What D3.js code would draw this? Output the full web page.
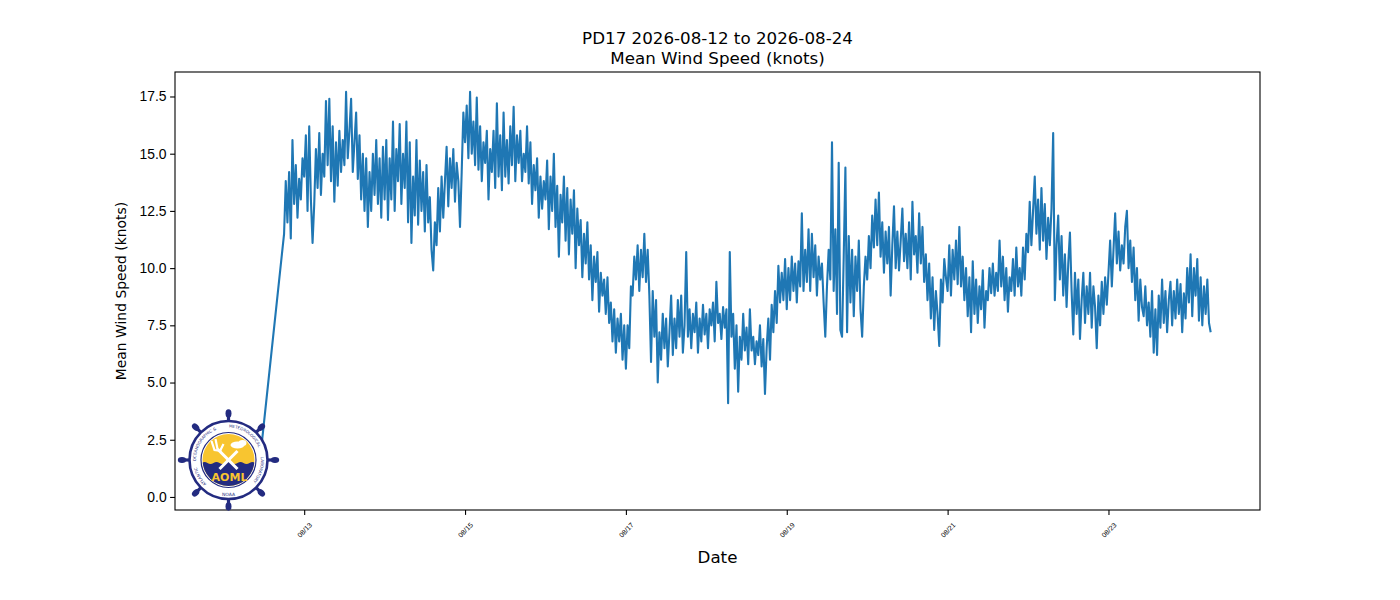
<!DOCTYPE html>
<html lang="en">

<head>
    <meta charset="UTF-8">
    <script src="https://d3js.org/d3.v7.min.js"></script>
    <title>PD17 Mean Wind Speed</title>
    <style>
        body { margin: 0; background: #fff; }
        svg { font-family: "DejaVu Sans", sans-serif; }
        .frame { fill: none; stroke: #000; stroke-width: 1.1px; }
        .tick line { stroke: #000; stroke-width: 1.1px; }
    </style>
</head>

<body>
    <div id="chart"></div>
    <script>
        // Two sparse readings at the start of the record (hidden behind the logo)
        var leadTimes = ["2026-08-12T00:10", "2026-08-12T10:00"];
        var leadValues = [0.3, 0.5];

        // Regular 30 minute readings from 2026-08-12 18:00 (UTC)
        var seriesStart = "2026-08-12T18:00";
        var stepMinutes = 30;
        var windSpeed = [
            // 08/12 18:00 - 23:30
            11.5, 13.8, 12.0, 14.2, 11.3, 15.6, 12.8, 14.5, 12.2, 13.9, 13.0, 14.8,
            // 08/13
            14.0, 15.8, 12.5, 16.2, 13.0, 11.1, 12.8, 15.2, 13.5, 15.9, 13.2, 15.0,
            14.0, 17.3, 14.5, 17.4, 13.8, 16.2, 12.9, 15.5, 13.6, 16.0, 14.2, 15.6,
            14.5, 17.7, 14.8, 16.0, 17.4, 14.2, 15.5, 16.8, 13.9, 15.8, 13.0, 15.0,
            12.5, 14.8, 11.8, 14.2, 12.5, 15.0, 13.2, 15.6, 12.8, 14.8, 12.2, 15.3,
            // 08/14
            13.0, 15.6, 12.1, 14.8, 13.0, 16.4, 12.5, 15.2, 13.8, 16.3, 12.8, 15.0,
            13.5, 16.4, 12.0, 15.5, 11.1, 14.0, 12.3, 15.6, 11.9, 14.7, 12.5, 14.2,
            11.6, 14.5, 12.0, 13.1, 10.8, 9.9, 12.0, 11.0, 13.5, 11.6, 14.0, 12.2,
            13.8, 15.3, 12.7, 14.8, 13.5, 15.2, 12.9, 14.6, 13.8, 11.8, 14.2, 16.8,
            // 08/15
            15.5, 17.1, 14.8, 17.7, 15.0, 16.4, 14.5, 17.45, 14.3, 16.2, 13.8, 15.5,
            14.6, 16.0, 13.0, 15.2, 14.2, 16.0, 13.5, 17.2, 14.0, 15.8, 13.4, 16.8,
            14.0, 15.6, 13.7, 16.2, 14.5, 17.05, 13.8, 15.8, 14.6, 16.0, 13.8, 15.0,
            14.2, 16.2, 13.7, 15.5, 12.8, 14.5, 13.4, 14.8, 12.2, 14.0, 12.6, 13.8,
            // 08/16
            13.0, 14.7, 11.7, 14.0, 12.5, 15.0, 11.8, 13.6, 10.5, 13.2, 12.0, 14.0,
            11.2, 13.5, 10.6, 13.0, 11.5, 13.4, 10.0, 12.6, 11.0, 12.1, 9.6, 11.5,
            10.2, 12.0, 9.5, 11.0, 8.6, 10.5, 9.4, 10.7, 8.1, 9.8, 8.8, 9.5,
            8.0, 9.6, 7.6, 8.5, 6.8, 8.2, 6.3, 7.8, 6.8, 8.0, 6.0, 7.5,
            // 08/17
            5.6, 7.5, 6.5, 9.2, 8.8, 10.5, 9.5, 11.0, 9.0, 10.8, 9.6, 11.5,
            9.4, 10.8, 8.8, 5.9, 9.0, 7.0, 8.6, 5.0, 7.2, 6.0, 8.0, 6.5,
            7.8, 5.7, 7.2, 8.8, 6.2, 7.8, 6.5, 8.6, 7.0, 8.8, 6.3, 7.5,
            10.7, 7.0, 8.2, 6.5, 8.0, 7.2, 8.5, 6.3, 7.8, 6.8, 8.4, 7.1,
            // 08/18
            8.0, 6.5, 8.2, 7.5, 8.5, 6.8, 9.4, 7.6, 8.0, 6.9, 8.3, 7.4,
            8.2, 4.1, 10.7, 7.0, 8.0, 5.6, 7.5, 4.6, 7.0, 6.0, 8.0, 6.4,
            7.4, 5.8, 8.2, 6.4, 7.0, 5.8, 6.8, 6.2, 7.5, 5.7, 6.9, 4.5,
            6.5, 7.8, 6.0, 8.4, 7.2, 9.0, 7.6, 10.1, 8.5, 9.8, 8.6, 10.4,
            // 08/19
            8.2, 10.0, 8.6, 10.5, 9.0, 10.2, 8.5, 10.3, 9.2, 12.4, 9.0, 10.8,
            9.4, 11.7, 9.0, 11.5, 9.6, 11.0, 8.8, 10.5, 9.5, 10.2, 8.5, 7.0,
            9.2, 10.8, 9.5, 15.5, 9.0, 11.7, 8.0, 14.6, 7.3, 7.0, 10.5, 14.4,
            7.2, 11.4, 8.5, 10.8, 7.9, 10.5, 9.0, 11.2, 8.2, 7.0, 9.2, 10.5,
            // 08/20
            9.5, 11.4, 10.0, 12.3, 10.9, 13.0, 11.0, 13.3, 10.5, 12.0, 9.8, 11.6,
            10.2, 11.8, 8.8, 11.0, 12.7, 10.0, 11.6, 9.9, 11.2, 12.6, 10.3, 11.5,
            10.0, 12.0, 9.5, 12.9, 10.6, 11.4, 9.8, 12.4, 10.2, 11.8, 9.4, 10.6,
            8.6, 10.2, 7.8, 9.6, 7.3, 9.0, 8.0, 6.6, 9.5, 8.5, 10.4, 9.6,
            // 08/21
            9.0, 11.0, 8.8, 10.8, 9.5, 11.2, 9.3, 11.8, 9.2, 10.5, 8.6, 10.0,
            7.9, 9.6, 7.2, 10.3, 8.0, 9.5, 7.6, 9.2, 8.2, 9.9, 7.4, 9.0,
            8.6, 10.0, 8.9, 10.2, 8.8, 9.8, 9.0, 11.2, 9.2, 10.5, 8.6, 10.0,
            8.1, 9.6, 9.0, 10.4, 8.8, 10.9, 9.2, 10.0, 8.8, 10.9, 9.5, 11.5,
            // 08/22
            10.7, 12.9, 11.0, 12.5, 14.0, 11.5, 13.0, 10.8, 13.5, 11.2, 12.8, 10.4,
            12.2, 11.0, 12.6, 15.9, 8.6, 11.0, 12.3, 9.5, 11.4, 8.8, 10.6, 8.3,
            10.2, 11.55, 9.0, 7.1, 9.8, 8.0, 9.5, 6.9, 8.6, 9.8, 7.6, 9.2,
            8.0, 9.8, 7.4, 9.2, 8.3, 6.5, 8.8, 7.5, 9.4, 8.0, 9.6, 8.4,
            // 08/23
            9.8, 11.2, 9.2, 10.8, 12.4, 10.2, 11.6, 9.9, 11.0, 10.2, 11.8, 12.5,
            10.0, 11.2, 9.4, 10.9, 8.6, 10.0, 7.7, 9.5, 8.3, 7.9, 9.2, 7.5,
            8.5, 7.0, 9.0, 6.3, 8.2, 6.2, 8.8, 7.4, 9.5, 7.6, 9.0, 7.2,
            8.6, 9.4, 7.5, 9.0, 7.8, 9.5, 8.0, 9.3, 7.2, 8.9, 7.8, 10.0,
            // 08/24 00:00 - 06:30
            8.5, 10.6, 7.9, 10.0, 8.8, 10.4, 7.7, 9.6, 7.5, 9.2, 8.0, 9.5, 7.6, 7.2
        ];

        var xTickDates = ["2026-08-13", "2026-08-15", "2026-08-17", "2026-08-19", "2026-08-21", "2026-08-23"];
        var yTickValues = [0, 2.5, 5, 7.5, 10, 12.5, 15, 17.5];

        var titleLines = ["PD17 2026-08-12 to 2026-08-24", "Mean Wind Speed (knots)"];

        // Figure layout (matplotlib-like axes box)
        var width = 1400, height = 600;
        var plotLeft = 175, plotRight = 1260, plotTop = 72, plotBottom = 510;

        var parseTime = d3.utcParse("%Y-%m-%dT%H:%M");
        var parseDay = d3.utcParse("%Y-%m-%d");
        var start = parseTime(seriesStart);

        var data = leadTimes.map(function (t, i) { return { t: parseTime(t), v: leadValues[i] }; })
            .concat(windSpeed.map(function (v, i) {
                return { t: d3.utcMinute.offset(start, i * stepMinutes), v: v };
            }));

        // 5% margins like matplotlib autoscale
        function padded(ext) {
            var span = ext[1] - ext[0];
            return [ext[0] - span * 0.05, ext[1] + span * 0.05];
        }
        var tExt = d3.extent(data, function (d) { return +d.t; });
        var vExt = d3.extent(data, function (d) { return d.v; });

        var x = d3.scaleUtc()
            .domain(padded(tExt).map(function (d) { return new Date(d); }))
            .range([plotLeft, plotRight]);
        var y = d3.scaleLinear()
            .domain(padded(vExt))
            .range([plotBottom, plotTop]);

        var svg = d3.select("#chart")
            .append("svg")
            .attr("width", width)
            .attr("height", height);

        svg.append("defs").append("clipPath")
            .attr("id", "plot-clip")
            .append("rect")
            .attr("x", plotLeft).attr("y", plotTop)
            .attr("width", plotRight - plotLeft).attr("height", plotBottom - plotTop);

        // Line
        var line = d3.line()
            .x(function (d) { return x(d.t); })
            .y(function (d) { return y(d.v); });

        svg.append("path")
            .datum(data)
            .attr("clip-path", "url(#plot-clip)")
            .attr("fill", "none")
            .attr("stroke", "#1f77b4")
            .attr("stroke-width", 2.1)
            .attr("stroke-linejoin", "round")
            .attr("d", line);

        // Axes
        var yAxis = d3.axisLeft(y)
            .tickValues(yTickValues)
            .tickFormat(d3.format(".1f"))
            .tickSize(4.9)
            .tickPadding(3.5);

        var gy = svg.append("g")
            .attr("transform", "translate(" + plotLeft + ",0)")
            .call(yAxis);
        gy.select(".domain").remove();
        gy.selectAll("text")
            .attr("fill", "#000")
            .style("font-size", "13.9px");

        var xAxis = d3.axisBottom(x)
            .tickValues(xTickDates.map(parseDay))
            .tickFormat(d3.utcFormat("%m/%d"))
            .tickSize(4.9);

        var gx = svg.append("g")
            .attr("transform", "translate(0," + plotBottom + ")")
            .call(xAxis);
        gx.select(".domain").remove();
        gx.selectAll("text")
            .attr("fill", "#000")
            .attr("y", null)
            .attr("dy", "0.35em")
            .attr("text-anchor", "middle")
            .attr("transform", "translate(0,20) rotate(-45)")
            .style("font-size", "7px");

        svg.append("rect")
            .attr("class", "frame")
            .attr("x", plotLeft).attr("y", plotTop)
            .attr("width", plotRight - plotLeft).attr("height", plotBottom - plotTop);

        // Titles
        svg.selectAll(".title")
            .data(titleLines)
            .enter().append("text")
            .attr("class", "title")
            .attr("x", (plotLeft + plotRight) / 2)
            .attr("y", function (d, i) { return 44 + i * 20; })
            .attr("text-anchor", "middle")
            .style("font-size", "16.7px")
            .text(function (d) { return d; });

        svg.append("text")
            .attr("x", (plotLeft + plotRight) / 2)
            .attr("y", 563)
            .attr("text-anchor", "middle")
            .style("font-size", "16.7px")
            .text("Date");

        svg.append("text")
            .attr("transform", "translate(126," + (plotTop + plotBottom) / 2 + ") rotate(-90)")
            .attr("text-anchor", "middle")
            .style("font-size", "13.9px")
            .text("Mean Wind Speed (knots)");

        // AOML logo (drawn on top of the line, lower left corner)
        var navy = "#232b80", gold = "#f8c530";
        var logo = svg.append("g").attr("transform", "translate(228.5,460)");

        d3.range(8).forEach(function (k) {
            var a = k * 45;
            var sp = logo.append("g").attr("transform", "rotate(" + a + ")");
            sp.append("line")
                .attr("x1", 0).attr("y1", -36).attr("x2", 0).attr("y2", -44)
                .attr("stroke", navy).attr("stroke-width", 3.2);
            sp.append("ellipse")
                .attr("cx", 0).attr("cy", -46.5).attr("rx", 3).attr("ry", 4.2)
                .attr("fill", navy);
        });

        logo.append("circle").attr("r", 39).attr("fill", "#fff")
            .attr("stroke", navy).attr("stroke-width", 2.6);

        var inner = logo.append("defs").append("clipPath").attr("id", "logo-clip");
        inner.append("circle").attr("r", 26);

        var disk = logo.append("g").attr("clip-path", "url(#logo-clip)");
        disk.append("rect").attr("x", -27).attr("y", -27).attr("width", 54).attr("height", 54)
            .attr("fill", gold);
        disk.append("path")
            .attr("d", "M-27,3 q3,-2 6,0 t6,0 t6,0 t6,0 t6,0 t6,0 t6,0 t6,0 t6,0 V27 H-27 Z")
            .attr("fill", navy);
        logo.append("circle").attr("r", 27.5).attr("fill", "none")
            .attr("stroke", navy).attr("stroke-width", 1.2);

        // crossed trident and tree
        logo.append("line").attr("x1", -11).attr("y1", -11).attr("x2", 9).attr("y2", 9)
            .attr("stroke", "#fff").attr("stroke-width", 3);
        logo.append("line").attr("x1", 9).attr("y1", -9).attr("x2", -9).attr("y2", 9)
            .attr("stroke", "#fff").attr("stroke-width", 3);
        logo.append("path")
            .attr("d", "M-17,-19 L-14,-10 L-7,-9 M-13,-21 L-11,-11 M-5,-16 L-8,-10")
            .attr("fill", "none").attr("stroke", "#fff").attr("stroke-width", 2.2);
        logo.append("ellipse").attr("cx", 9).attr("cy", -15).attr("rx", 7).attr("ry", 3.5).attr("fill", "#fff");
        logo.append("ellipse").attr("cx", 14).attr("cy", -17).attr("rx", 4).attr("ry", 3).attr("fill", "#fff");

        logo.append("text")
            .attr("x", 1).attr("y", 21)
            .attr("text-anchor", "middle")
            .attr("fill", gold)
            .style("font-size", "11px")
            .style("font-weight", "bold")
            .text("AOML");

        // ring lettering, one short arc per word
        var ringWords = [
            { text: "ATLANTIC", a0: -140, a1: -100 },
            { text: "OCEANOGRAPHIC &", a0: -98, a1: -16 },
            { text: "METEOROLOGICAL", a0: -4, a1: 72 },
            { text: "LABORATORY", a0: 76, a1: 140 }
        ];
        var ringR = 32.5;
        function arcPoint(deg) {
            var r = (deg - 90) * Math.PI / 180;
            return [ringR * Math.cos(r), ringR * Math.sin(r)];
        }
        ringWords.forEach(function (w, i) {
            var p0 = arcPoint(w.a0), p1 = arcPoint(w.a1);
            logo.append("path")
                .attr("id", "ring-arc-" + i)
                .attr("fill", "none")
                .attr("d", "M" + p0[0] + "," + p0[1] + " A" + ringR + "," + ringR + " 0 0 1 " + p1[0] + "," + p1[1]);
            logo.append("text")
                .attr("fill", navy)
                .style("font-size", "4px")
                .append("textPath")
                .attr("href", "#ring-arc-" + i)
                .attr("startOffset", "50%")
                .attr("text-anchor", "middle")
                .text(w.text);
        });
        logo.append("text")
            .attr("x", 0).attr("y", 35.5)
            .attr("text-anchor", "middle")
            .attr("fill", navy)
            .style("font-size", "4.5px")
            .text("NOAA");
    </script>
</body>

</html>
